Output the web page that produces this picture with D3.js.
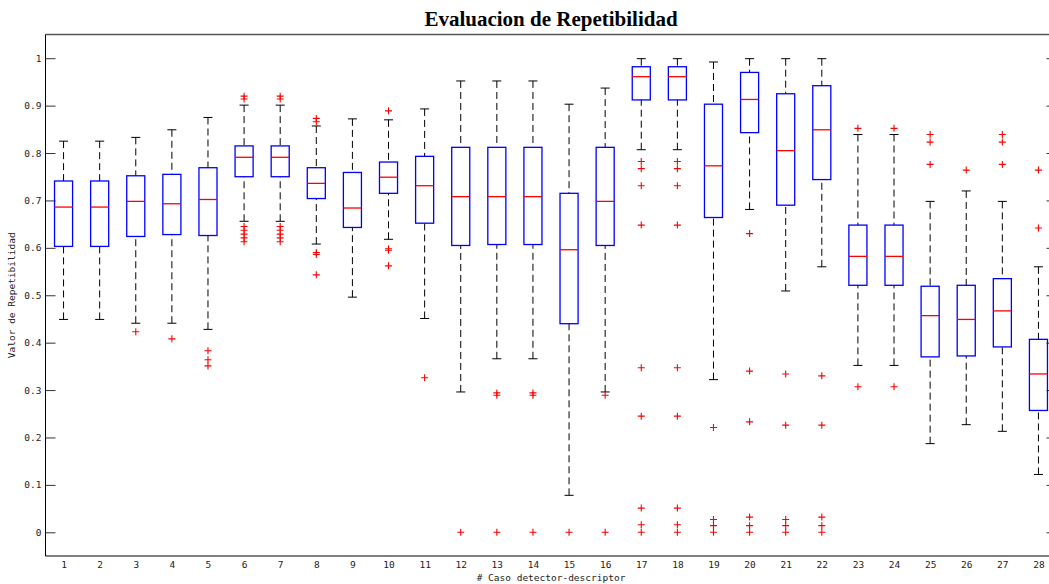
<!DOCTYPE html>
<html>
<head>
<meta charset="utf-8">
<script src="https://cdn.jsdelivr.net/npm/d3@7"></script>
<style>
  html, body { margin: 0; padding: 0; background: #fff; overflow: hidden; }
  svg { display: block; }
  .tick-label { font-family: "DejaVu Sans Mono", monospace; font-size: 9.5px; fill: #222; }
</style>
</head>
<body>
<svg id="chart" width="1049" height="584"></svg>
<script>
// Case numbers (detector-descriptor combinations)
const cases = d3.range(1, 29);

// Box statistics per case
const q1 = [0.603, 0.603, 0.624, 0.628, 0.626, 0.750, 0.750, 0.704, 0.643, 0.715,
            0.652, 0.605, 0.607, 0.607, 0.440, 0.605, 0.912, 0.912, 0.664, 0.843,
            0.690, 0.744, 0.521, 0.521, 0.370, 0.372, 0.391, 0.257];
const medians = [0.686, 0.686, 0.698, 0.693, 0.702, 0.791, 0.791, 0.736, 0.684, 0.749,
                 0.731, 0.708, 0.708, 0.708, 0.596, 0.698, 0.961, 0.961, 0.773, 0.913,
                 0.805, 0.849, 0.582, 0.582, 0.457, 0.449, 0.467, 0.334];
const q3 = [0.741, 0.741, 0.752, 0.755, 0.769, 0.815, 0.815, 0.769, 0.759, 0.781,
            0.793, 0.812, 0.812, 0.812, 0.715, 0.812, 0.982, 0.982, 0.903, 0.970,
            0.925, 0.942, 0.648, 0.648, 0.519, 0.521, 0.535, 0.407];
const whiskerLow = [0.449, 0.449, 0.441, 0.441, 0.428, 0.656, 0.656, 0.608, 0.496, 0.618,
                    0.451, 0.296, 0.366, 0.366, 0.078, 0.296, 0.807, 0.807, 0.322, 0.681,
                    0.509, 0.560, 0.352, 0.352, 0.187, 0.227, 0.213, 0.122];
const whiskerHigh = [0.825, 0.825, 0.833, 0.849, 0.875, 0.901, 0.901, 0.857, 0.872, 0.870,
                     0.893, 0.952, 0.952, 0.952, 0.903, 0.937, 0.999, 0.999, 0.992, 0.999,
                     0.999, 0.999, 0.839, 0.839, 0.698, 0.720, 0.698, 0.560];

// Points beyond the whiskers
const outliers = [
  [],
  [],
  [0.423],
  [0.408],
  [0.383, 0.364, 0.351],
  [0.920, 0.914, 0.645, 0.637, 0.629, 0.621, 0.613],
  [0.920, 0.914, 0.645, 0.637, 0.629, 0.621, 0.613],
  [0.873, 0.866, 0.590, 0.586, 0.543],
  [],
  [0.889, 0.598, 0.595, 0.562],
  [0.326],
  [0.0],
  [0.294, 0.289, 0.0],
  [0.294, 0.289, 0.0],
  [0.0],
  [0.289, 0.0],
  [0.782, 0.767, 0.731, 0.648, 0.347, 0.245, 0.051, 0.016, 0.0],
  [0.782, 0.767, 0.731, 0.648, 0.347, 0.245, 0.051, 0.016, 0.0],
  [0.221, 0.027, 0.014, 0.0],
  [0.630, 0.340, 0.233, 0.032, 0.014, 0.0],
  [0.334, 0.226, 0.027, 0.014, 0.0],
  [0.330, 0.226, 0.032, 0.014, 0.0],
  [0.852, 0.307],
  [0.852, 0.307],
  [0.839, 0.823, 0.776],
  [0.764],
  [0.839, 0.823, 0.776],
  [0.764, 0.642]
];

const yTicks = d3.range(0, 11).map(i => i / 10);
const yTickLabels = ["0", "0.1", "0.2", "0.3", "0.4", "0.5", "0.6", "0.7", "0.8", "0.9", "1"];

const titleText = "Evaluacion de Repetibilidad";
const xLabelText = "# Caso detector-descriptor";
const yLabelText = "Valor de Repetibilidad";

const svg = d3.select("#chart");

const plot = { left: 45.5, right: 1056.5, top: 34.5, bottom: 556 };

const x = d3.scaleLinear().domain([0.5, 28.5]).range([plot.left, plot.right]);
const y = d3.scaleLinear().domain([-0.05, 1.05]).range([plot.bottom, plot.top]);

const boxHalf = 0.25;   // box half-width in case units
const capHalf = 0.125;  // whisker cap half-width

// Axes frame
svg.append("line").attr("x1", plot.left).attr("x2", plot.right + 5)
  .attr("y1", plot.top).attr("y2", plot.top).attr("stroke", "#555").attr("stroke-width", 1.3);
svg.append("line").attr("x1", plot.left).attr("x2", plot.right + 5)
  .attr("y1", plot.bottom).attr("y2", plot.bottom).attr("stroke", "#555").attr("stroke-width", 1.3);
svg.append("line").attr("x1", plot.left).attr("x2", plot.left)
  .attr("y1", plot.top).attr("y2", plot.bottom).attr("stroke", "#000").attr("stroke-width", 1);
svg.append("line").attr("x1", plot.right).attr("x2", plot.right)
  .attr("y1", plot.top).attr("y2", plot.bottom).attr("stroke", "#000").attr("stroke-width", 1);

// Y axis (ticks pointing inwards on both sides)
const yAxisLeft = d3.axisLeft(y).tickValues(yTicks).tickSize(-10).tickPadding(14)
  .tickFormat((d, i) => yTickLabels[i]);
const gyl = svg.append("g").attr("transform", `translate(${plot.left},0)`).call(yAxisLeft);
gyl.select(".domain").remove();
gyl.selectAll(".tick line").attr("stroke", "#333");
gyl.selectAll(".tick text").attr("class", "tick-label").attr("x", -4);

const yAxisRight = d3.axisRight(y).tickValues(yTicks).tickSize(-10).tickFormat("");
const gyr = svg.append("g").attr("transform", `translate(${plot.right},0)`).call(yAxisRight);
gyr.select(".domain").remove();
gyr.selectAll(".tick line").attr("stroke", "#333");

// X axis labels (no tick marks)
const xAxis = d3.axisBottom(x).tickValues(cases).tickSize(0).tickPadding(5).tickFormat(d3.format("d"));
const gx = svg.append("g").attr("transform", `translate(0,${plot.bottom})`).call(xAxis);
gx.select(".domain").remove();
gx.selectAll(".tick text").attr("class", "tick-label");

// Boxes
const g = svg.append("g");
const rows = cases.map((c, i) => ({
  c, q1: q1[i], med: medians[i], q3: q3[i], lo: whiskerLow[i], hi: whiskerHigh[i], out: outliers[i]
}));

const item = g.selectAll("g.case").data(rows).join("g").attr("class", "case");

// Dashed whiskers
item.append("line")
  .attr("x1", d => x(d.c)).attr("x2", d => x(d.c))
  .attr("y1", d => y(d.hi)).attr("y2", d => y(d.q3))
  .attr("stroke", "#000").attr("stroke-dasharray", "7,4");
item.append("line")
  .attr("x1", d => x(d.c)).attr("x2", d => x(d.c))
  .attr("y1", d => y(d.lo)).attr("y2", d => y(d.q1))
  .attr("stroke", "#000").attr("stroke-dasharray", "7,4");

// Whisker caps
item.append("line")
  .attr("x1", d => x(d.c - capHalf)).attr("x2", d => x(d.c + capHalf))
  .attr("y1", d => y(d.hi)).attr("y2", d => y(d.hi))
  .attr("stroke", "#000");
item.append("line")
  .attr("x1", d => x(d.c - capHalf)).attr("x2", d => x(d.c + capHalf))
  .attr("y1", d => y(d.lo)).attr("y2", d => y(d.lo))
  .attr("stroke", "#000");

// Box
item.append("rect")
  .attr("x", d => x(d.c - boxHalf))
  .attr("width", d => x(d.c + boxHalf) - x(d.c - boxHalf))
  .attr("y", d => y(d.q3))
  .attr("height", d => y(d.q1) - y(d.q3))
  .attr("fill", "none").attr("stroke", "#0000ff").attr("stroke-width", 1.3);

// Median
item.append("line")
  .attr("x1", d => x(d.c - boxHalf)).attr("x2", d => x(d.c + boxHalf))
  .attr("y1", d => y(d.med)).attr("y2", d => y(d.med))
  .attr("stroke", "#ff0000").attr("stroke-width", 1.3);

// Outlier "+" markers
const ms = 3.5;
item.selectAll("path.out")
  .data(d => d.out.map(v => ({ c: d.c, v })))
  .join("path").attr("class", "out")
  .attr("d", `M${-ms},0H${ms}M0,${-ms}V${ms}`)
  .attr("transform", d => `translate(${x(d.c)},${y(d.v)})`)
  .attr("stroke", "#ff0000").attr("stroke-width", 1.1).attr("fill", "none");

// Title and axis labels
svg.append("text")
  .attr("x", (plot.left + plot.right) / 2).attr("y", 26)
  .attr("text-anchor", "middle")
  .attr("font-family", "'Liberation Serif', serif").attr("font-weight", "bold")
  .attr("font-size", 21).attr("fill", "#000")
  .text(titleText);

svg.append("text")
  .attr("x", (plot.left + plot.right) / 2).attr("y", 581)
  .attr("text-anchor", "middle")
  .attr("class", "tick-label")
  .text(xLabelText);

svg.append("text")
  .attr("transform", `translate(15,${(plot.top + plot.bottom) / 2}) rotate(-90)`)
  .attr("text-anchor", "middle")
  .attr("class", "tick-label")
  .text(yLabelText);
</script>
</body>
</html>
